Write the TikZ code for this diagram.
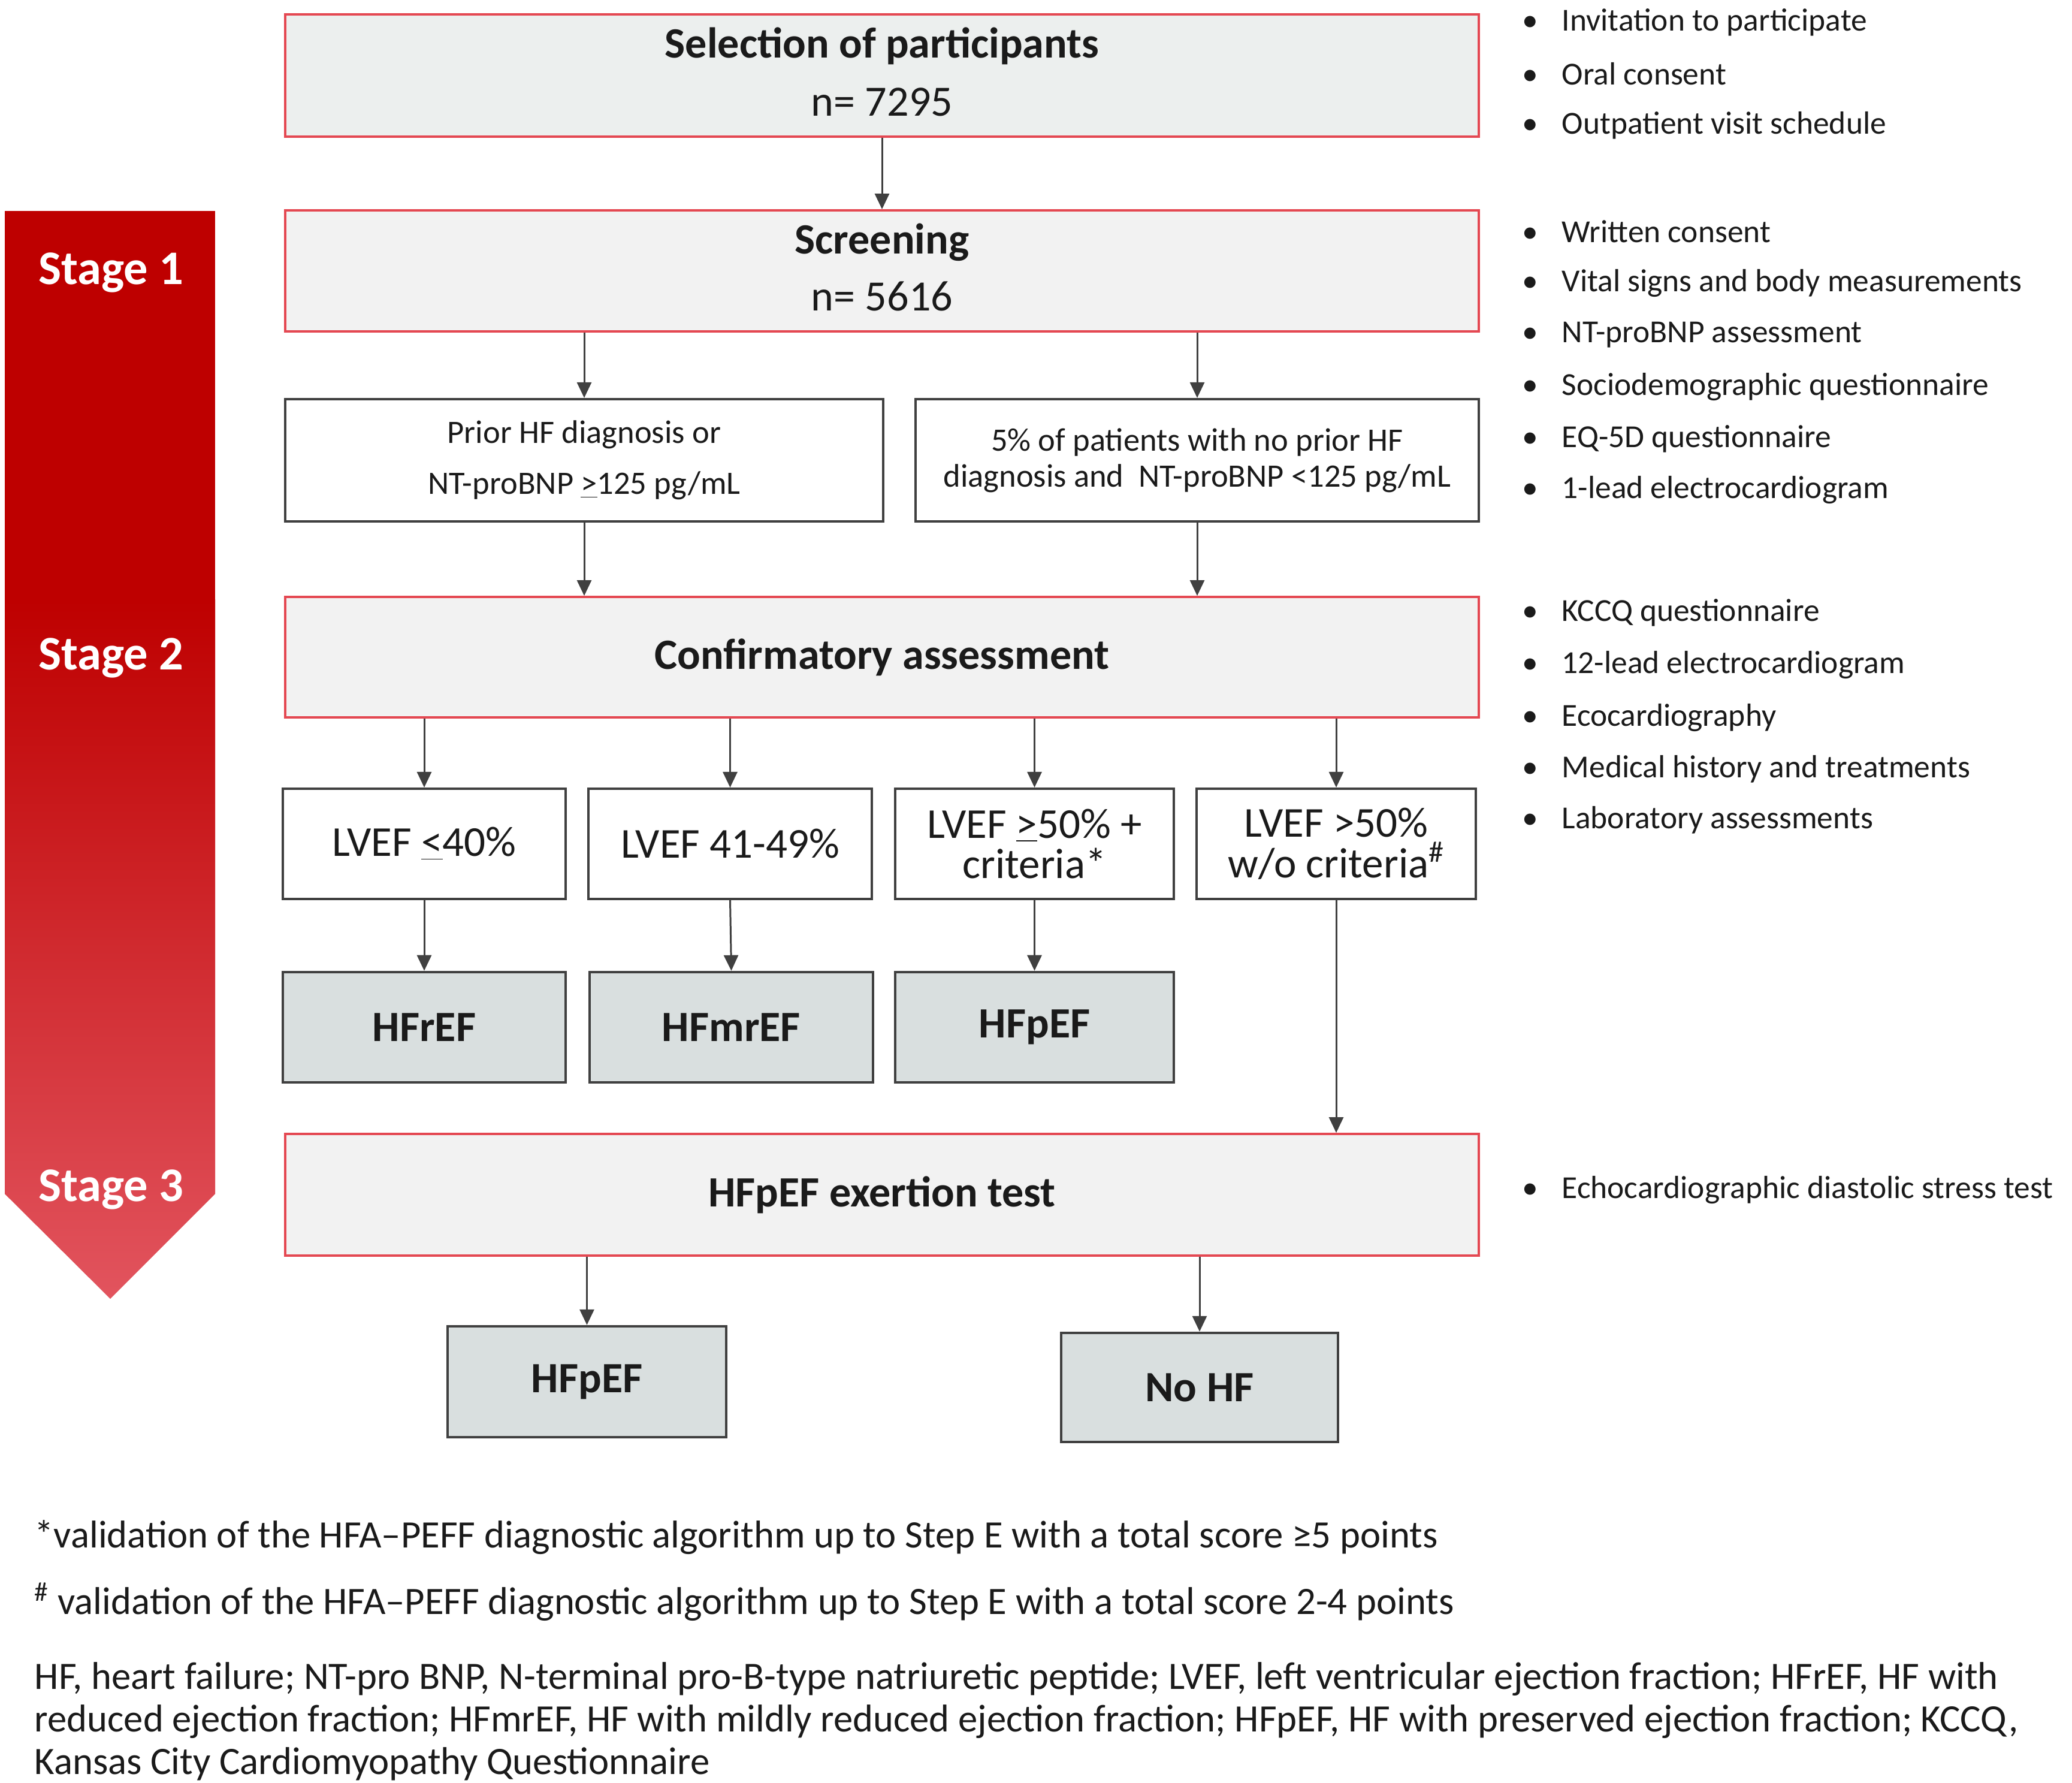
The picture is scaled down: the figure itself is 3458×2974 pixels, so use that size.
\documentclass[tikz,border=0pt]{standalone}
\usepackage{fontspec}
\setmainfont{Carlito}
\usetikzlibrary{arrows.meta}
\definecolor{redline}{RGB}{228,72,82}
\definecolor{lightfill}{RGB}{242,242,242}
\definecolor{topfill}{RGB}{236,239,238}
\definecolor{resfill}{RGB}{217,223,223}
\definecolor{darkline}{RGB}{64,64,64}
\definecolor{txt}{RGB}{26,26,26}
\definecolor{stagetop}{RGB}{190,0,0}
\definecolor{stagebot}{RGB}{226,84,94}
\newcommand\szBul{\fontsize{15.2}{18}\selectfont}
\newcommand\szStage{\fontsize{22.9}{26}\selectfont}
\newcommand\szNote{\fontsize{18.4}{20.1}\selectfont}
\newcommand\ulsym[1]{\underline{#1}}
\begin{document}
\begin{tikzpicture}[x=0.01cm,y=-0.01cm,
  bx/.style n args={4}{minimum width={(#3-#1)*0.01cm}, minimum height={(#4-#2)*0.01cm},
     at={({(#1+#3)/2},{(#2+#4)/2})}},
  redbox/.style={draw=redline, line width=1.1pt, fill=lightfill, inner sep=0pt, align=center, text=txt},
  plainbox/.style={draw=darkline, line width=1.2pt, fill=white, inner sep=0pt, align=center, text=txt},
  resbox/.style={draw=darkline, line width=1.3pt, fill=resfill, inner sep=0pt, align=center, text=txt, font={\fontsize{20.5}{24}\selectfont\bfseries}},
  arr/.style={draw=darkline, line width=0.85pt, -{Triangle[length=0.26cm,width=0.24cm]}},
  bul/.style={anchor=west, inner sep=0pt, text=txt, font=\szBul},
  stagetxt/.style={text=white, font=\szStage\bfseries, inner sep=0pt},
  note/.style={anchor=west, inner sep=0pt, text=txt, font=\szNote, align=left}]
\fill[white] (0,0) rectangle (3458,2974);
\useasboundingbox (0,0) rectangle (3458,2974);

% stage banner
\begin{scope}
  \clip (8,352) -- (359,352) -- (359,1992) -- (184,2167) -- (8,1992) -- cycle;
  \fill[stagetop] (8,352) rectangle (359,1001);
  \shade[top color=stagetop, bottom color=stagebot] (8,1000) rectangle (359,2167);
\end{scope}
\node[stagetxt] (st1) at (185,455) {Stage 1};
\node[stagetxt] (st2) at (185,1098) {Stage 2};
\node[stagetxt] (st3) at (185,1985) {Stage 3};

% main boxes
\node[redbox, fill=topfill, bx={476}{24}{2468}{228}, font={\fontsize{20.5}{27.6}\selectfont}] (sel)
  {{\bfseries Selection of participants}\\n= 7295\vphantom{g}};
\node[redbox, bx={476}{351}{2468}{553}, font={\fontsize{20.5}{27}\selectfont}] (scr)
  {{\bfseries Screening}\\n= 5616\vphantom{g}};
\node[plainbox, bx={476}{666}{1474}{870}, font={\fontsize{15.5}{24.2}\selectfont}] (prior)
  {Prior HF diagnosis or\\NT-proBNP \ulsym{>}125 pg/mL};
\node[plainbox, bx={1528}{666}{2468}{870}, font={\fontsize{15.5}{17}\selectfont}] (five)
  {5\% of patients with no prior HF\\diagnosis and~ NT-proBNP <125 pg/mL};
\node[redbox, bx={476}{996}{2468}{1197}, font={\fontsize{20.5}{24}\selectfont\bfseries}] (conf)
  {Confirmatory assessment};

\node[plainbox, bx={472}{1316}{944}{1500}, font={\fontsize{20.2}{24}\selectfont}] (l1)
  {LVEF \ulsym{<}40\%};
\node[plainbox, bx={982}{1316}{1455}{1500}, font={\fontsize{20.2}{24}\selectfont}] (l2)
  {LVEF 41-49\%};
\node[plainbox, bx={1494}{1316}{1959}{1500}, font={\fontsize{20.2}{19.2}\selectfont}] (l3)
  {LVEF \ulsym{>}50\% +\\criteria*};
\node[plainbox, bx={1997}{1316}{2463}{1500}, font={\fontsize{20.2}{19.4}\selectfont}] (l4)
  {LVEF >50\%\\w/o criteria\textsuperscript{\#}};

\node[resbox, bx={472}{1622}{944}{1806}] (h1) {HFrEF};
\node[resbox, bx={984}{1622}{1457}{1806}] (h2) {HFmrEF};
\node[resbox, bx={1494}{1622}{1959}{1806}] (h3) {HFpEF};

\node[redbox, bx={476}{1892}{2468}{2095}, font={\fontsize{20.5}{24}\selectfont\bfseries}] (ex)
  {HFpEF exertion test};

\node[resbox, bx={747}{2213}{1212}{2398}] (pf) {HFpEF};
\node[resbox, bx={1771}{2224}{2233}{2406}] (nohf) {No HF};

% connectors
\draw[arr] (sel.south) -- (scr.north);
\draw[arr] (prior.north |- scr.south) -- (prior.north);
\draw[arr] (five.north |- scr.south) -- (five.north);
\draw[arr] (prior.south) -- (prior.south |- conf.north);
\draw[arr] (five.south) -- (five.south |- conf.north);
\draw[arr] (l1.north |- conf.south) -- (l1.north);
\draw[arr] (l2.north |- conf.south) -- (l2.north);
\draw[arr] (l3.north |- conf.south) -- (l3.north);
\draw[arr] (l4.north |- conf.south) -- (l4.north);
\draw[arr] (l1.south) -- (h1.north);
\draw[arr] (l2.south) -- (h2.north);
\draw[arr] (l3.south) -- (h3.north);
\draw[arr] (l4.south) -- (l4.south |- ex.north);
\draw[arr] (pf.north |- ex.south) -- (pf.north);
\draw[arr] (nohf.north |- ex.south) -- (nohf.north);

% bullet lists
\node[bul] (b1) at (2540,37) {\makebox[0.66cm][l]{•}Invitation to participate};
\node[bul] (b2) at (2540,123) {\makebox[0.66cm][l]{•}Oral consent};
\node[bul] (b3) at (2540,209) {\makebox[0.66cm][l]{•}Outpatient visit schedule};
\node[bul] (b4) at (2540,386) {\makebox[0.66cm][l]{•}Written consent};
\node[bul] (b5) at (2540,473) {\makebox[0.66cm][l]{•}Vital signs and body measurements};
\node[bul] (b6) at (2540,559) {\makebox[0.66cm][l]{•}NT-proBNP assessment};
\node[bul] (b7) at (2540,646) {\makebox[0.66cm][l]{•}Sociodemographic questionnaire};
\node[bul] (b8) at (2540,732) {\makebox[0.66cm][l]{•}EQ-5D questionnaire};
\node[bul] (b9) at (2540,818) {\makebox[0.66cm][l]{•}1-lead electrocardiogram};
\node[bul] (b10) at (2540,1022) {\makebox[0.66cm][l]{•}KCCQ questionnaire};
\node[bul] (b11) at (2540,1110) {\makebox[0.66cm][l]{•}12-lead electrocardiogram};
\node[bul] (b12) at (2540,1197) {\makebox[0.66cm][l]{•}Ecocardiography};
\node[bul] (b13) at (2540,1283) {\makebox[0.66cm][l]{•}Medical history and treatments};
\node[bul] (b14) at (2540,1368) {\makebox[0.66cm][l]{•}Laboratory assessments};
\node[bul] (b15) at (2540,1985) {\makebox[0.66cm][l]{•}Echocardiographic diastolic stress test};

% footnotes
\node[note] (fn1) at (57,2565) {*validation of the HFA–PEFF diagnostic algorithm up to Step E with a total score ≥5 points};
\node[note] (fn2) at (57,2673) {\textsuperscript{\#} validation of the HFA–PEFF diagnostic algorithm up to Step E with a total score 2-4 points};
\node[note] (fn3) at (57,2872) {HF, heart failure; NT-pro BNP, N-terminal pro-B-type natriuretic peptide; LVEF, left ventricular ejection fraction; HFrEF, HF with\\
reduced ejection fraction; HFmrEF, HF with mildly reduced ejection fraction; HFpEF, HF with preserved ejection fraction; KCCQ,\\
Kansas City Cardiomyopathy Questionnaire};
\end{tikzpicture}
\end{document}
